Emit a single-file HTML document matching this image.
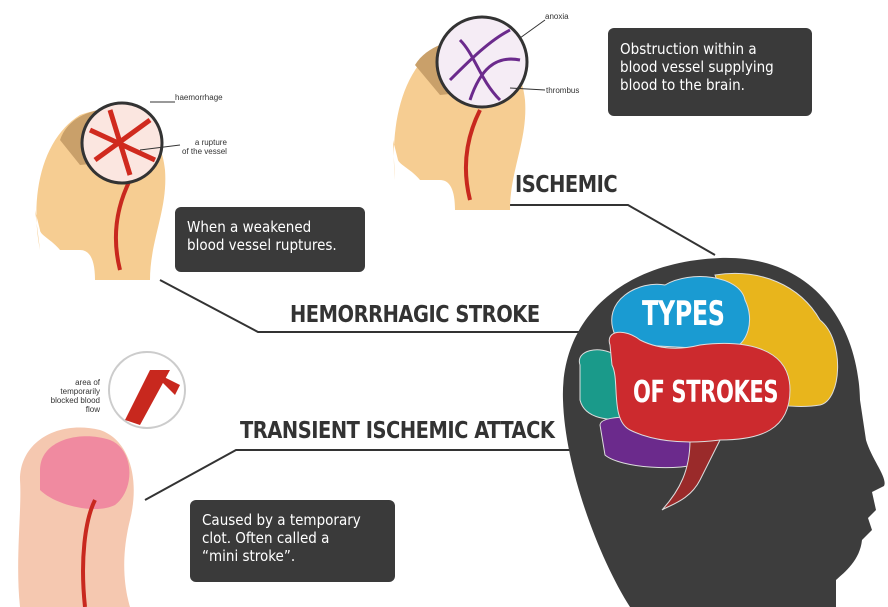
<!DOCTYPE html>
<html><head><style>
html,body{margin:0;padding:0;background:#fff;}
body{width:888px;height:607px;overflow:hidden;position:relative;font-family:"Liberation Sans",sans-serif;}
.box{position:absolute;background:#3a3a3a;color:#fff;border-radius:6px;font-family:"DejaVu Sans Condensed","Liberation Sans",sans-serif;font-size:15px;line-height:18px;padding:8px 12px;box-sizing:border-box;}
.lbl{position:absolute;font-family:"DejaVu Sans Condensed","Liberation Sans Narrow","Liberation Sans",sans-serif;font-weight:bold;color:#333;font-size:23px;letter-spacing:-0.5px;transform:scaleX(0.94);transform-origin:left top;white-space:nowrap;}
.sm{position:absolute;font-size:8px;color:#333;font-family:"Liberation Sans",sans-serif;line-height:9px;}
</style></head><body>
<svg width="888" height="607" style="position:absolute;left:0;top:0">
<g stroke="#333" stroke-width="2" fill="none">
<polyline points="510,205 628,205 715,255"/>
<polyline points="160,280 258,332 592,332"/>
<polyline points="145,500 236,450 592,450"/>
</g>
<path d="M630,607 C600,560 565,470 563,400 C560,320 620,262 720,258 C810,255 858,320 860,400 L866,440 C872,460 888,478 884,486 L872,492 L876,510 L868,518 L872,530 L862,540 C860,560 845,572 836,580 L836,607 Z" fill="#3d3d3d"/>
<path d="M715,275 C760,268 800,285 820,320 C845,340 842,400 820,405 C790,410 760,400 745,405 L735,340 C730,300 720,290 715,275Z" fill="#e8b51c" stroke="#ddd" stroke-width="1"/>
<path d="M615,335 C600,300 640,280 665,285 C690,270 740,275 745,300 C755,320 748,345 730,350 L640,345 Z" fill="#1a9bd2" stroke="#ddd" stroke-width="1"/>
<path d="M580,365 C575,350 600,345 615,355 L635,375 L630,420 C610,420 585,420 580,400 Z" fill="#1a9a8a" stroke="#ddd" stroke-width="1"/>
<path d="M600,425 C600,415 640,415 690,420 C715,425 720,450 705,462 C680,472 620,468 605,455 Z" fill="#6b2a8c" stroke="#ddd" stroke-width="1"/>
<path d="M720,440 L700,480 C690,500 670,505 662,510 C680,490 690,470 690,440 Z" fill="#9a2a2a" stroke="#ddd" stroke-width="1"/>
<path d="M610,345 C605,330 625,328 640,340 C660,350 680,350 700,345 C740,340 790,345 790,390 C790,430 760,440 720,440 C680,445 650,440 630,430 C610,420 620,380 612,365 Z" fill="#cc2a2e" stroke="#ddd" stroke-width="1"/>
<g fill="#f6cd92">
<path d="M40,250 C30,200 40,140 80,115 C120,100 160,120 165,170 C168,210 150,240 150,280 L95,280 C95,260 90,250 80,250 L60,250 C52,240 40,235 40,230 L35,210 Z"/>
<path d="M395,180 C390,130 400,70 440,45 C480,30 520,50 525,100 C528,140 510,170 510,210 L455,210 C455,190 450,180 440,180 L420,180 C412,170 400,165 398,160 L393,140 Z"/>
<path d="M20,480 C20,440 60,420 100,430 C130,440 140,480 130,520 C120,560 125,590 130,607 L20,607 C15,560 22,510 20,480 Z" fill="#f5c8b0"/>
</g>
<g fill="#c9a06a"><path d="M60,140 C70,110 110,105 130,110 L130,160 L80,165 Z"/><path d="M415,65 C430,40 470,35 490,40 L490,90 L440,95 Z"/></g>
<path d="M40,470 C40,440 80,430 110,440 C135,450 135,490 115,505 C95,515 55,505 40,490Z" fill="#f08aa0"/>
<g stroke="#c8281e" stroke-width="4" fill="none">
<path d="M120,270 C110,230 120,200 130,180"/><path d="M470,200 C460,160 470,130 480,110"/>
<path d="M85,607 C80,560 85,520 95,500"/>
</g>
<circle cx="122" cy="143" r="40" fill="#fbe6e0" stroke="#333" stroke-width="3"/>
<g stroke="#d02a1e" stroke-width="5" fill="none"><path d="M95,160 L150,120 M110,110 L130,175 M90,130 L155,160"/></g>
<circle cx="482" cy="62" r="45" fill="#f5ecf5" stroke="#333" stroke-width="3"/>
<g stroke="#6b2a8c" stroke-width="3" fill="none"><path d="M450,80 C470,60 490,40 510,30 M470,100 C480,70 495,55 520,60 M460,40 C475,55 480,80 500,100"/></g>
<circle cx="147" cy="390" r="38" fill="#fff" stroke="#ccc" stroke-width="2"/>
<path d="M125,420 L150,370 L170,370 L140,425 Z M150,370 L180,385 L175,395 Z" fill="#c8281e"/>
<g stroke="#333" stroke-width="1"><line x1="150" y1="102" x2="175" y2="102"/><line x1="140" y1="150" x2="180" y2="145"/><line x1="520" y1="38" x2="545" y2="20"/><line x1="510" y1="88" x2="545" y2="90"/></g>
</svg>
<div class="sm" style="left:175px;top:93px">haemorrhage</div>
<div class="sm" style="left:182px;top:138px;text-align:right">a rupture<br>of the vessel</div>
<div class="sm" style="left:545px;top:12px">anoxia</div>
<div class="sm" style="left:546px;top:86px">thrombus</div>
<div class="sm" style="left:28px;top:378px;text-align:right;width:72px">area of<br>temporarily<br>blocked blood<br>flow</div>
<div class="box" style="left:608px;top:28px;width:204px;height:88px;padding-top:12px">Obstruction within a<br>blood vessel supplying<br>blood to the brain.</div>
<div class="box" style="left:175px;top:207px;width:190px;height:65px;padding-top:11px">When a weakened<br>blood vessel ruptures.</div>
<div class="box" style="left:190px;top:500px;width:205px;height:82px;padding-top:11px">Caused by a temporary<br>clot. Often called a<br>“mini stroke”.</div>
<div class="lbl" style="left:515px;top:172px">ISCHEMIC</div>
<div class="lbl" style="left:290px;top:302px">HEMORRHAGIC STROKE</div>
<div class="lbl" style="left:240px;top:418px">TRANSIENT ISCHEMIC ATTACK</div>
<div class="lbl" style="left:642px;top:294px;color:#fff;font-size:34px;transform:scaleX(0.78)">TYPES</div>
<div class="lbl" style="left:633px;top:375px;color:#fff;font-size:30px;transform:scaleX(0.78)">OF STROKES</div>
</body></html>
